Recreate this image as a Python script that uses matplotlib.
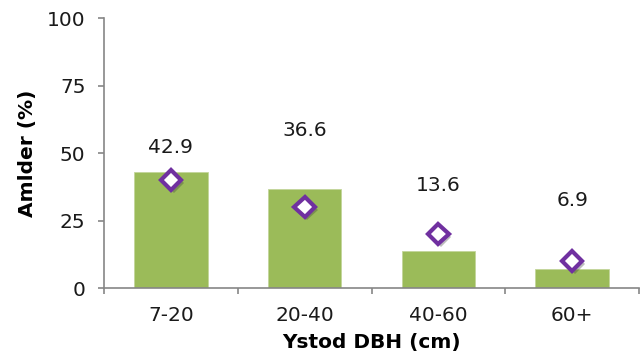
import matplotlib
matplotlib.use("Agg")
import matplotlib.pyplot as plt
import matplotlib.patheffects as pe
import numpy as np

# ystod diamedr (DBH) a chanran y coed ym mhob dosbarth
dosbarth = ["7-20", "20-40", "40-60", "60+"]
amlder = [42.9, 36.6, 13.6, 6.9]
pwyntiau = [40, 30, 20, 10]
label_y = [52, 58.5, 38, 32.4]

plt.rcParams["font.family"] = ["Verdana", "DejaVu Sans"]
FS = 14.5

fig = plt.figure(figsize=(6.4, 3.63), dpi=100)
ax = fig.add_axes([0.1625, 0.2066, 0.836, 0.7434])

x = np.arange(len(dosbarth))
ax.bar(x, amlder, width=0.55, color="#9BBB59", edgecolor="#C3D69B", linewidth=0.6, zorder=2)
ax.plot(x, pwyntiau, linestyle="none", marker="D", markersize=10.5,
        markerfacecolor="white", markeredgecolor="#7030A0", markeredgewidth=3, zorder=3,
        path_effects=[pe.SimplePatchShadow(offset=(2, -2), alpha=0.35, shadow_rgbFace="#404040"), pe.Normal()])

for xi, v, ly in zip(x, amlder, label_y):
    ax.text(xi, ly, f"{v:.1f}", ha="center", va="center", fontsize=FS, color="#1a1a1a")

ax.set_xlim(-0.5, 3.5)
ax.set_ylim(0, 100)
ax.set_yticks([0, 25, 50, 75, 100])
ax.set_xticks(x)
ax.set_xticklabels(dosbarth)
ax.set_xticks(np.arange(-0.5, 4.0, 1.0), minor=True)

for s in ["top", "right"]:
    ax.spines[s].set_visible(False)
for s in ["left", "bottom"]:
    ax.spines[s].set_color("#868686")
    ax.spines[s].set_linewidth(1.2)

ax.tick_params(axis="y", length=4.3, width=1.2, color="#868686", labelsize=FS, pad=9, labelcolor="#1a1a1a")
ax.tick_params(axis="x", which="major", length=0, labelsize=FS, pad=13, labelcolor="#1a1a1a")
ax.tick_params(axis="x", which="minor", length=4.3, width=1.2, color="#868686")

ax.set_ylabel("Amlder (%)", fontsize=FS, fontweight="bold", labelpad=7)
ax.set_xlabel("Ystod DBH (cm)", fontsize=FS, fontweight="bold", labelpad=6)

fig.savefig("out.png", dpi=100)
